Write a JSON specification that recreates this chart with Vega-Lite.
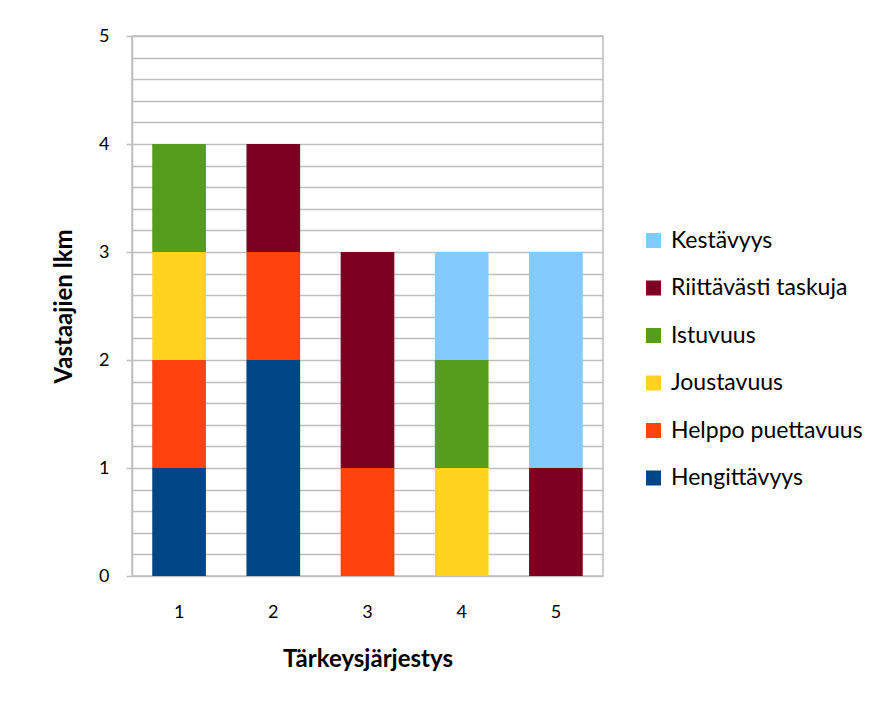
{
  "$schema": "https://vega.github.io/schema/vega-lite/v6.json",
  "autosize": "none",
  "padding": {"left": 132, "top": 36, "right": 289, "bottom": 128},
  "width": 471,
  "height": 540,
  "background": "white",
  "config": {
    "font": "Lato",
    "view": {"stroke": "#bfbfbf", "strokeWidth": 1.5}
  },
  "data": {
    "values": [
      {"sija": 1, "ominaisuus": "Hengittävyys", "lkm": 1},
      {"sija": 1, "ominaisuus": "Helppo puettavuus", "lkm": 1},
      {"sija": 1, "ominaisuus": "Joustavuus", "lkm": 1},
      {"sija": 1, "ominaisuus": "Istuvuus", "lkm": 1},
      {"sija": 2, "ominaisuus": "Hengittävyys", "lkm": 2},
      {"sija": 2, "ominaisuus": "Helppo puettavuus", "lkm": 1},
      {"sija": 2, "ominaisuus": "Riittävästi taskuja", "lkm": 1},
      {"sija": 3, "ominaisuus": "Helppo puettavuus", "lkm": 1},
      {"sija": 3, "ominaisuus": "Riittävästi taskuja", "lkm": 2},
      {"sija": 4, "ominaisuus": "Joustavuus", "lkm": 1},
      {"sija": 4, "ominaisuus": "Istuvuus", "lkm": 1},
      {"sija": 4, "ominaisuus": "Kestävyys", "lkm": 1},
      {"sija": 5, "ominaisuus": "Riittävästi taskuja", "lkm": 1},
      {"sija": 5, "ominaisuus": "Kestävyys", "lkm": 2}
    ]
  },
  "transform": [
    {"calculate": "indexof(['Hengittävyys','Helppo puettavuus','Joustavuus','Istuvuus','Riittävästi taskuja','Kestävyys'], datum.ominaisuus)", "as": "pino"}
  ],
  "mark": {"type": "bar"},
  "encoding": {
    "x": {
      "field": "sija",
      "type": "ordinal",
      "title": "Tärkeysjärjestys",
      "scale": {"paddingInner": 0.43, "paddingOuter": 0.215},
      "axis": {
        "labelAngle": 0,
        "labelFontSize": 18,
        "labelColor": "#000000",
        "labelPadding": 27,
        "ticks": false,
        "domain": false,
        "titleFontSize": 24,
        "titleFontWeight": "bold",
        "titleColor": "#000000",
        "titlePadding": 26
      }
    },
    "y": {
      "field": "lkm",
      "type": "quantitative",
      "stack": "zero",
      "title": "Vastaajien lkm",
      "scale": {"domain": [0, 5], "nice": false},
      "axis": {
        "values": [0, 0.2, 0.4, 0.6, 0.8, 1, 1.2, 1.4, 1.6, 1.8, 2, 2.2, 2.4, 2.6, 2.8, 3, 3.2, 3.4, 3.6, 3.8, 4, 4.2, 4.4, 4.6, 4.8, 5],
        "labelExpr": "datum.value % 1 === 0 ? format(datum.value, 'd') : ''",
        "labelOverlap": false,
        "labelFontSize": 18,
        "labelColor": "#000000",
        "labelPadding": 17,
        "grid": true,
        "gridColor": "#bfbfbf",
        "gridWidth": 1.5,
        "domainColor": "#bfbfbf",
        "domainWidth": 1.5,
        "tickColor": "#bfbfbf",
        "tickWidth": 1.5,
        "tickSize": 6,
        "tickOpacity": {"condition": {"test": "datum.value % 1 === 0", "value": 1}, "value": 0},
        "titleFontSize": 24,
        "titleFontWeight": "bold",
        "titleColor": "#000000",
        "titlePadding": 22
      }
    },
    "color": {
      "field": "ominaisuus",
      "type": "nominal",
      "scale": {
        "domain": ["Kestävyys", "Riittävästi taskuja", "Istuvuus", "Joustavuus", "Helppo puettavuus", "Hengittävyys"],
        "range": ["#83caff", "#7e0021", "#579d1c", "#ffd320", "#ff420e", "#004586"]
      },
      "legend": {
        "title": null,
        "orient": "none",
        "legendX": 510,
        "legendY": 193,
        "symbolType": "square",
        "symbolSize": 225,
        "symbolStrokeWidth": 0,
        "labelFontSize": 23,
        "labelLimit": 300,
        "labelColor": "#000000",
        "labelOffset": 6,
        "rowPadding": 23.5,
        "padding": 0
      }
    },
    "order": {"field": "pino", "type": "quantitative", "sort": "ascending"}
  }
}
